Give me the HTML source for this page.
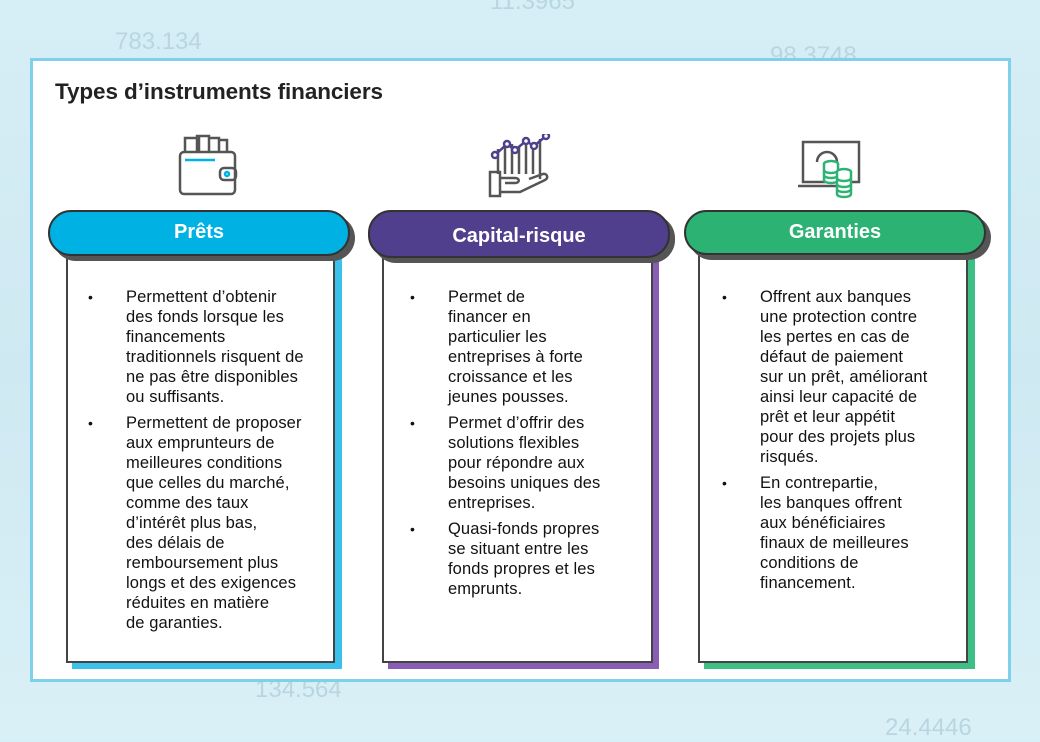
<!DOCTYPE html>
<html><head><meta charset="utf-8"><style>
*{margin:0;padding:0;box-sizing:border-box}
body{width:1040px;height:740px;overflow:hidden;position:relative;font-family:"Liberation Sans",sans-serif;background:linear-gradient(180deg,#d6eef5 0%,#cfe9f2 50%,#d9f0f6 100%)}
.bgn{position:absolute;color:#b9d6e0;font-size:24px}
.panel{position:absolute;left:30px;top:58px;width:981px;height:624px;background:#fff;border:3px solid #7fd0ea}
.title{position:absolute;left:55px;top:79px;font-size:22.5px;font-weight:bold;color:#222;letter-spacing:-0.1px}
.pill{position:absolute;height:46px;border:2px solid #333;border-radius:23px;color:#fff;font-weight:bold;font-size:20px;text-align:center;box-shadow:5px 5px 0 #555}
.box{position:absolute;background:#fff;border:2px solid #444}
.strip{position:absolute}
ul{list-style:none}
li{position:relative;font-size:16.5px;line-height:20px;color:#111;margin-bottom:6px;white-space:nowrap;letter-spacing:0.1px}
li:before{content:"•";position:absolute;left:-38px;top:0;font-size:14px}
.txt{position:absolute}
</style></head><body>
<div class="bgn" style="left:115px;top:28px">783.134</div>
<div class="bgn" style="left:490px;top:-12px">11.3965</div>
<div class="bgn" style="left:770px;top:42px">98.3748</div>
<div class="bgn" style="left:255px;top:676px">134.564</div>
<div class="bgn" style="left:885px;top:714px">24.4446</div>
<div class="panel"></div>
<div class="title">Types d’instruments financiers</div>

<svg style="position:absolute;left:175px;top:130px" width="70" height="70" viewBox="0 0 70 70" fill="none" stroke="#555" stroke-width="2.5">
<rect x="5" y="22" width="55" height="42" rx="4"/>
<path d="M10 22V8h14v14M22 22V6h12v16M34 22V8h10v14M44 22V10h8v12"/>
<rect x="45" y="38" width="16" height="12" rx="4"/>
<circle cx="52" cy="44" r="2" stroke="#00b2e3"/>
<path d="M10 30h30" stroke="#00b2e3"/>
</svg>
<svg style="position:absolute;left:488px;top:134px" width="70" height="65" viewBox="0 0 70 65" fill="none" stroke="#555" stroke-width="2.5">
<path d="M10 15v25M17 12v28M24 10v30M31 12v28M38 10v30M45 10v30M52 5v40"/>
<rect x="2" y="38" width="10" height="24"/>
<path d="M12 44l15 0 c5 0 5 5 0 5h-10M12 58h20l25-12c4-2 2-7-2-6l-14 5"/>
<polyline points="7,21 19,10 27,16 38,7 46,12 58,2" stroke="#4f3f8c"/>
<g fill="#fff" stroke="#4f3f8c"><circle cx="7" cy="21" r="3"/><circle cx="19" cy="10" r="3"/><circle cx="27" cy="16" r="3"/><circle cx="38" cy="7" r="3"/><circle cx="46" cy="12" r="3"/><circle cx="58" cy="2" r="3"/></g>
</svg>
<svg style="position:absolute;left:797px;top:138px" width="68" height="62" viewBox="0 0 68 62" fill="none" stroke="#555" stroke-width="2.5">
<rect x="6" y="4" width="56" height="40"/>
<path d="M1 48h40"/>
<path d="M20 24a10 10 0 1 1 10 10" />
<g stroke="#2cb273" fill="#fff"><ellipse cx="34" cy="26" rx="7" ry="3"/><path d="M27 26v16c0 4 14 4 14 0V26M27 32c0 4 14 4 14 0M27 37c0 4 14 4 14 0"/>
<ellipse cx="47" cy="34" rx="7" ry="3"/><path d="M40 34v22c0 4 14 4 14 0V34M40 40c0 4 14 4 14 0M40 46c0 4 14 4 14 0M40 51c0 4 14 4 14 0"/></g>
</svg>

<div class="strip" style="left:72px;top:258px;width:270px;height:411px;background:#3cc2ea"></div>
<div class="box" style="left:66px;top:252px;width:269px;height:411px"></div>
<div class="pill" style="left:48px;top:210px;width:302px;background:#00b2e3;line-height:40px">Prêts</div>
<ul class="txt" style="left:126px;top:287px;width:190px">
<li>Permettent d’obtenir<br>des fonds lorsque les<br>financements<br>traditionnels risquent de<br>ne pas être disponibles<br>ou suffisants.</li>
<li>Permettent de proposer<br>aux emprunteurs de<br>meilleures conditions<br>que celles du marché,<br>comme des taux<br>d’intérêt plus bas,<br>des délais de<br>remboursement plus<br>longs et des exigences<br>réduites en matière<br>de garanties.</li>
</ul>

<div class="strip" style="left:388px;top:262px;width:271px;height:407px;background:#8a5db5"></div>
<div class="box" style="left:382px;top:256px;width:271px;height:407px"></div>
<div class="pill" style="left:368px;top:210px;width:302px;height:48px;background:#4f3f8c;line-height:48px">Capital-risque</div>
<ul class="txt" style="left:448px;top:287px;width:170px">
<li>Permet de<br>financer en<br>particulier les<br>entreprises à forte<br>croissance et les<br>jeunes pousses.</li>
<li>Permet d’offrir des<br>solutions flexibles<br>pour répondre aux<br>besoins uniques des<br>entreprises.</li>
<li>Quasi-fonds propres<br>se situant entre les<br>fonds propres et les<br>emprunts.</li>
</ul>

<div class="strip" style="left:704px;top:258px;width:271px;height:411px;background:#3dbf85"></div>
<div class="box" style="left:698px;top:252px;width:270px;height:411px"></div>
<div class="pill" style="left:684px;top:210px;width:302px;height:45px;background:#2cb273;line-height:40px">Garanties</div>
<ul class="txt" style="left:760px;top:287px;width:180px">
<li>Offrent aux banques<br>une protection contre<br>les pertes en cas de<br>défaut de paiement<br>sur un prêt, améliorant<br>ainsi leur capacité de<br>prêt et leur appétit<br>pour des projets plus<br>risqués.</li>
<li>En contrepartie,<br>les banques offrent<br>aux bénéficiaires<br>finaux de meilleures<br>conditions de<br>financement.</li>
</ul>
</body></html>
